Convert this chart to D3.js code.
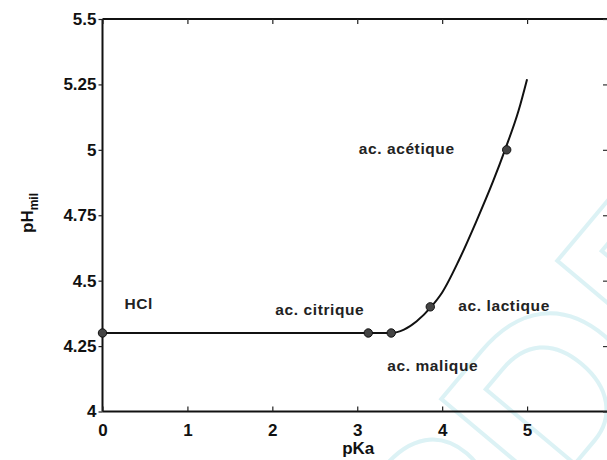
<!DOCTYPE html>
<html>
<head>
<meta charset="utf-8">
<script src="https://cdn.jsdelivr.net/npm/d3@7"></script>
<style>
  html, body { margin: 0; padding: 0; background: #fff; }
  svg { display: block; }
  text { font-family: "Liberation Sans", Arial, Helvetica, sans-serif; }
</style>
</head>
<body>
<svg id="chart" width="607" height="460"></svg>
<script>
// pH of the medium as a function of the acid pKa
const curvePKa = [0, 1, 2, 3, 3.13, 3.4, 3.55, 3.7, 3.87, 4.0, 4.2, 4.4, 4.6, 4.74, 4.9, 5.0];
const curvePH  = [4.3, 4.3, 4.3, 4.3, 4.3, 4.3, 4.313, 4.345, 4.40, 4.455, 4.58, 4.725, 4.88, 5.0, 5.15, 5.27];

// individual acids
const acidNames = ["HCl", "ac. citrique", "ac. malique", "ac. lactique", "ac. acétique"];
const acidPKa   = [0, 3.13, 3.40, 3.86, 4.76];
const acidPH    = [4.3, 4.3, 4.3, 4.4, 5.0];

// axis ticks
const xTicks = [0, 1, 2, 3, 4, 5, 6];
const yTicks = [4, 4.25, 4.5, 4.75, 5, 5.25, 5.5];
const yTickLabels = ["4", "4.25", "4.5", "4.75", "5", "5.25", "5.5"];

const svg = d3.select("#chart");
const x = d3.scaleLinear().domain([0, 6]).range([102.5, 612]);
const y = d3.scaleLinear().domain([4, 5.5]).range([411.5, 19]);

// faint watermark
svg.append("text")
  .attr("transform", "translate(455,650) rotate(-50)")
  .attr("font-size", 250)
  .attr("font-weight", "bold")
  .attr("fill", "none")
  .attr("stroke", "#dcf2f5")
  .attr("stroke-width", 4)
  .text("PDF");

// frame
const frame = svg.append("g").attr("stroke", "#111").attr("stroke-width", 2).attr("fill", "none");
frame.append("line").attr("x1", x(0)).attr("x2", x(6)).attr("y1", y(5.5)).attr("y2", y(5.5));
frame.append("line").attr("x1", x(0)).attr("x2", x(6)).attr("y1", y(4)).attr("y2", y(4));
frame.append("line").attr("x1", x(0)).attr("x2", x(0)).attr("y1", y(4)).attr("y2", y(5.5));
frame.append("line").attr("x1", x(6)).attr("x2", x(6)).attr("y1", y(4)).attr("y2", y(5.5));

// bottom axis: inward ticks
const xAxis = d3.axisBottom(x).tickValues(xTicks).tickFormat(d3.format("d")).tickSize(-5).tickPadding(12);
const gx = svg.append("g").attr("transform", `translate(0,${y(4)})`).call(xAxis);
gx.select(".domain").remove();
gx.selectAll(".tick line").attr("stroke", "#222").attr("stroke-width", 1.2);
gx.selectAll(".tick text").attr("font-size", 17).attr("font-weight", "bold").attr("fill", "#111");

// top axis ticks
const gxt = svg.append("g").attr("transform", `translate(0,${y(5.5)})`)
  .call(d3.axisTop(x).tickValues(xTicks).tickFormat("").tickSize(-5));
gxt.select(".domain").remove();
gxt.selectAll(".tick line").attr("stroke", "#222").attr("stroke-width", 1.2);

// left axis
const yAxis = d3.axisLeft(y).tickValues(yTicks).tickFormat((d, i) => yTickLabels[i]).tickSize(4).tickPadding(2);
const gy = svg.append("g").attr("transform", `translate(${x(0)},0)`).call(yAxis);
gy.select(".domain").remove();
gy.selectAll(".tick line").attr("stroke", "#222").attr("stroke-width", 1.2);
gy.selectAll(".tick text").attr("font-size", 17).attr("font-weight", "bold").attr("fill", "#111");

// right axis ticks
const gyr = svg.append("g").attr("transform", `translate(${x(6)},0)`)
  .call(d3.axisRight(y).tickValues(yTicks).tickFormat("").tickSize(-9));
gyr.select(".domain").remove();
gyr.selectAll(".tick line").attr("stroke", "#333").attr("stroke-width", 1.2);

// curve
const line = d3.line()
  .x((d, i) => x(curvePKa[i]))
  .y((d, i) => y(curvePH[i]))
  .curve(d3.curveMonotoneX);
svg.append("path")
  .datum(curvePKa)
  .attr("d", line)
  .attr("fill", "none")
  .attr("stroke", "#111")
  .attr("stroke-width", 2);

// acid markers
svg.append("g").selectAll("circle")
  .data(acidPKa)
  .join("circle")
  .attr("cx", d => x(d))
  .attr("cy", (d, i) => y(acidPH[i]))
  .attr("r", 4.2)
  .attr("fill", "#444")
  .attr("stroke", "#111")
  .attr("stroke-width", 1);

// acid labels
const labelPos = [
  { dx: 22, dy: -24 },
  { dx: -93, dy: -18 },
  { dx: -4, dy: 38 },
  { dx: 28, dy: 4 },
  { dx: -148, dy: 4 }
];
svg.append("g").selectAll("text")
  .data(acidNames)
  .join("text")
  .attr("x", (d, i) => x(acidPKa[i]) + labelPos[i].dx)
  .attr("y", (d, i) => y(acidPH[i]) + labelPos[i].dy)
  .attr("font-size", 15.5)
  .attr("font-weight", "bold")
  .attr("letter-spacing", 0.6)
  .attr("fill", "#222")
  .text(d => d);

// axis titles
svg.append("text")
  .attr("x", (x(0) + x(6)) / 2 + 1)
  .attr("y", 454)
  .attr("text-anchor", "middle")
  .attr("font-size", 17)
  .attr("font-weight", "bold")
  .attr("fill", "#111")
  .text("pKa");

const yt = svg.append("text")
  .attr("transform", "translate(33,213) rotate(-90)")
  .attr("text-anchor", "middle")
  .attr("font-weight", "bold")
  .attr("fill", "#111");
yt.append("tspan").attr("font-size", 17).text("pH");
yt.append("tspan").attr("font-size", 12).attr("dy", 5).text("mil");
</script>
</body>
</html>
